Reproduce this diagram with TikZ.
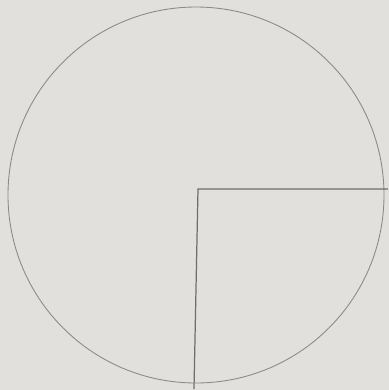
\documentclass[tikz,border=0pt]{standalone}
\usepackage{tikz}

\definecolor{paper}{HTML}{E2E0DD}
\definecolor{pencil}{HTML}{8C8A88}

\begin{document}
\begin{tikzpicture}[x=0.02cm, y=-0.02cm]
\fill[paper] (0,0) rectangle (389,390);
\useasboundingbox (0,0) rectangle (389,390);
\coordinate (o) at (196,195);
\coordinate (c) at (198,189);
\coordinate (e) at (388,189);
\coordinate (s) at (194,389);
\draw[pencil, line width=0.5pt] (o) circle[radius=188];
\draw[pencil!80!black, line width=0.7pt] (e)--(c)--(s);
\end{tikzpicture}
\end{document}
